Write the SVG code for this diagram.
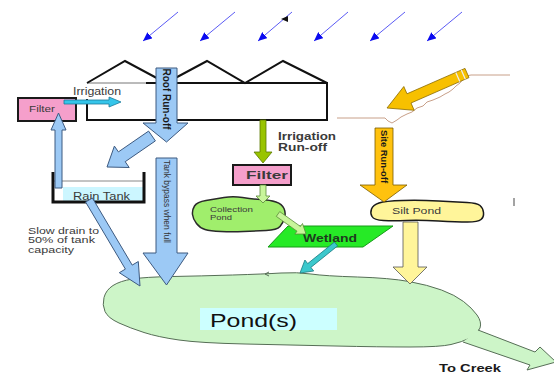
<svg xmlns="http://www.w3.org/2000/svg" width="554" height="372" viewBox="0 0 554 372">
<defs>
<marker id="rainHead" markerUnits="userSpaceOnUse" markerWidth="10" markerHeight="8" refX="9" refY="4" orient="auto">
<path d="M0,0 L9,4 L0,8 z" fill="#0a0af0"/>
</marker>
<style>
text{font-family:"Liberation Sans",Arial,sans-serif;}
.lbl{fill:#3a3a3a;}
.bold{font-weight:bold;}
.blueArrow{fill:#9cc9f5;stroke:#3d5a80;stroke-width:1;}
.rain{stroke:#5b5bf5;stroke-width:1;fill:none;}
.filterBox{fill:#f59fcb;stroke:#1a1a1a;stroke-width:2;}
.wall{stroke:#111;stroke-width:2;fill:none;}
</style>
</defs>
<rect width="554" height="372" fill="#ffffff"/>

<g id="rain">
<line class="rain" x1="178" y1="12" x2="143" y2="41" marker-end="url(#rainHead)"/>
<line class="rain" x1="235" y1="12" x2="200" y2="41" marker-end="url(#rainHead)"/>
<line class="rain" x1="292" y1="12" x2="258" y2="41" marker-end="url(#rainHead)"/>
<line class="rain" x1="348" y1="12" x2="314" y2="41" marker-end="url(#rainHead)"/>
<line class="rain" x1="405" y1="12" x2="370" y2="41" marker-end="url(#rainHead)"/>
<line class="rain" x1="462" y1="12" x2="427" y2="41" marker-end="url(#rainHead)"/>
<polygon points="281,19 288,16 288,22" fill="#111"/>
</g>

<g id="greenhouse">
<line x1="87" y1="83" x2="146" y2="83" stroke="#777" stroke-width="1"/>
<polyline class="wall" points="87,83 125,61 166,83 207,61 245,83 283,61 327,83"/>
<polyline class="wall" points="146,83 327,83 327,120 87,120 87,99"/>
</g>

<g id="slope">
<polyline points="337,118 385,118 388,121 392,123 397,120 401,117 407,114 412,112 417,108 423,106 427,102 433,100 440,97 445,94 449,92 453,89 456,86 460,83 463,79 466,76 471,75 510,75" fill="none" stroke="#c8a089" stroke-width="1"/>
</g>

<g id="filter-left">
<rect class="filterBox" x="18" y="98" width="58" height="23"/>
<text class="lbl" x="29" y="111.5" font-size="9.5" textLength="26" lengthAdjust="spacingAndGlyphs">Filter</text>
</g>
<text class="lbl" x="73" y="95" font-size="10" textLength="48" lengthAdjust="spacingAndGlyphs">Irrigation</text>

<g id="rain-tank">
<rect x="63" y="187" width="80" height="14" fill="#ccf6ff"/>
<line x1="53" y1="181" x2="144" y2="181" stroke="#888" stroke-width="1"/>
<polyline points="53,172 53,202 144,202 144,172" fill="none" stroke="#111" stroke-width="3"/>
<text class="lbl" x="73" y="199.5" font-size="10.5" textLength="57" lengthAdjust="spacingAndGlyphs">Rain Tank</text>
</g>
<g id="slow-drain-note">
<text class="lbl" x="28" y="233.5" font-size="8.2" textLength="71" lengthAdjust="spacingAndGlyphs">Slow drain to</text>
<text class="lbl" x="28" y="243" font-size="8.2" textLength="67" lengthAdjust="spacingAndGlyphs">50% of tank</text>
<text class="lbl" x="28" y="252.5" font-size="8.2" textLength="46" lengthAdjust="spacingAndGlyphs">capacity</text>
</g>

<g id="irrigation-runoff-label">
<text class="lbl bold" x="278" y="140" font-size="11" textLength="58" lengthAdjust="spacingAndGlyphs">Irrigation</text>
<text class="lbl bold" x="278" y="150.5" font-size="11" textLength="49" lengthAdjust="spacingAndGlyphs">Run-off</text>
</g>

<g id="filter-center">
<rect class="filterBox" x="233" y="165" width="58" height="20"/>
<text class="lbl bold" x="246" y="179.3" font-size="10.5" textLength="42" lengthAdjust="spacingAndGlyphs">Filter</text>
</g>

<g id="collection-pond">
<path d="M192.5,214.5 Q192,210 194.5,206 Q197,202 206,200.5 Q215,199 224,197.5 Q233,196 242.5,197.5 Q252,199 261,199.5 Q270,200 276,202 Q282,204 284,208.5 Q286,213 284.5,218 Q283,223 280,226.5 Q277,230 266,230.5 Q255,231 243.5,231.5 Q232,232 221,231.5 Q210,231 205,229.5 Q200,228 196.5,223.5 Q193,219 192.5,214.5 Z" fill="#a0ee6c" stroke="#2a2a2a" stroke-width="1.5"/>
<text class="lbl" x="210" y="212" font-size="7.5" textLength="43" lengthAdjust="spacingAndGlyphs">Collection</text>
<text class="lbl" x="210" y="220" font-size="7.5" textLength="22" lengthAdjust="spacingAndGlyphs">Pond</text>
</g>

<g id="wetland">
<polygon points="288,226 393,226 363,247 268,247" fill="#26ea26" stroke="#179a17" stroke-width="1"/>
<text class="bold" x="303" y="241.7" font-size="10.5" fill="#1e3a1e" textLength="54" lengthAdjust="spacingAndGlyphs">Wetland</text>
</g>

<g id="silt-pond">
<path d="M372,216.5 Q370,213 371.5,209 Q373,205 379,203 Q385,201 402.5,200.5 Q420,200 438.5,201 Q457,202 467,202.5 Q477,203 480,205.5 Q483,208 483.5,212.5 Q484,217 481,219.5 Q478,222 467.5,222 Q457,222 438.5,221 Q420,220 406.5,220.5 Q393,221 383.5,220.5 Q374,220 372,216.5 Z" fill="#fff59a" stroke="#1a1a1a" stroke-width="1.5"/>
<text class="lbl" x="392" y="214" font-size="9.5" textLength="49" lengthAdjust="spacingAndGlyphs">Silt Pond</text>
</g>
<line x1="514" y1="198" x2="514" y2="206" stroke="#666" stroke-width="1.2"/>

<g id="pond">
<path d="M105,311.5 Q102,305 104,297.5 Q106,290 113,285.5 Q120,281 132.5,279 Q145,277 172.5,276.5 Q200,276 232.5,275 Q265,274 281,273 Q297,272 311,274 Q325,276 357.5,277 Q390,278 409,281.5 Q428,285 441.5,290 Q455,295 463.5,301.5 Q472,308 477,315 Q482,322 480,328 Q478,334 470,338 Q462,342 451,344.5 Q440,347 410,347 Q380,347 335,346 Q290,345 245,344 Q200,343 179,340 Q158,337 144,332.5 Q130,328 119,323 Q108,318 105,311.5 Z" fill="#cdf5c8" stroke="#566e56" stroke-width="1"/>
<path d="M269,272 L265,274 L269,276" fill="none" stroke="#566e56" stroke-width="1"/>
<rect x="200" y="308" width="137" height="22" fill="#ccffff"/>
<text x="210" y="326.5" font-size="18.5" fill="#111" textLength="87" lengthAdjust="spacingAndGlyphs">Pond(s)</text>
</g>

<g id="connectors">
<polygon class="blueArrow" points="156,68 177,68 177,123 188,123 166.5,142 143,123 156,123"/>
<text class="bold" font-size="10" fill="#1a1a1a" transform="translate(166.5,99) rotate(90)" text-anchor="middle" dy="0.35em">Roof Run-off</text>
<polygon class="blueArrow" points="148.6,131.1 155.4,140.9 125.2,161.7 129.2,167.5 107,167 114.4,146.1 118.4,151.9"/>
<polygon class="blueArrow" points="156,158 177,158 177,253 188,253 166.5,285 143,253 156,253"/>
<text font-size="8.5" fill="#333" transform="translate(166.5,201.5) rotate(90)" text-anchor="middle" dy="0.35em" textLength="83" lengthAdjust="spacingAndGlyphs">Tank bypass when full</text>
<polygon class="blueArrow" points="55,188 62,188 62,130 66,130 58.5,113 51,130 55,130"/>
<polygon class="blueArrow" points="85.6,202 125.4,269.1 119.3,272.7 140,286 138.3,261.5 132.2,265.1 92.4,198"/>
<polygon points="64,100 109,100 109,97 121,102 109,107 109,104 64,104" fill="#35c5ea" stroke="#1a7a9a" stroke-width="0.8"/>
<polygon points="260,120 266,120 266,152 272,152 263,163 254,152 260,152" fill="#99c400" stroke="#5a7a00" stroke-width="0.8"/>
<polygon points="260,185 266,185 266,196 270,196 263,203 256,196 260,196" fill="#c8f59a" stroke="#5a8a3a" stroke-width="0.8"/>
<polygon points="276.3,216.4 297,231.2 294.9,234.1 306,234 302.5,223.5 300.4,226.4 279.7,211.6" fill="#c8f59a" stroke="#5a8a3a" stroke-width="0.8"/>
<polygon points="334.4,242.1 337.6,245.9 310.9,267.4 313.7,271 300,273 304.9,260 307.7,263.6" fill="#3cc8cc" stroke="#1b7a80" stroke-width="0.8"/>
<polygon points="465,68.4 469,77.6 411,103 414.2,110.3 387,108 403.8,86.5 407,93.8" fill="#f7c000" stroke="#8a6a00" stroke-width="0.8"/>
<line x1="461.3" y1="70" x2="465.3" y2="79.2" stroke="#eeeeee" stroke-width="1.2"/>
<line x1="455.8" y1="72.4" x2="459.8" y2="81.6" stroke="#eeeeee" stroke-width="1.2"/>
<polygon points="375,128 393,128 393,185 407,185 384,202 360,185 375,185" fill="#ffc20e" stroke="#7a5c00" stroke-width="0.8"/>
<text class="bold" font-size="9.5" fill="#1a1a1a" transform="translate(384,156.5) rotate(90)" text-anchor="middle" dy="0.35em" textLength="53" lengthAdjust="spacingAndGlyphs">Site Run-off</text>
<polygon points="403,222 418,222 418,267 427,267 410,284 393,267 403,267" fill="#fff59a" stroke="#555" stroke-width="0.8"/>
<polygon points="478,330 535,352 540,347 556,362 527,370 530,365 463,342" fill="#cdf5c8"/>
<polyline points="478,330 535,352 540,347 556,362 527,370 530,365 463,342" fill="none" stroke="#566e56" stroke-width="1"/>
<text class="bold" x="439" y="371.5" font-size="10" fill="#1a1a1a" textLength="62" lengthAdjust="spacingAndGlyphs">To Creek</text>
</g>
</svg>
